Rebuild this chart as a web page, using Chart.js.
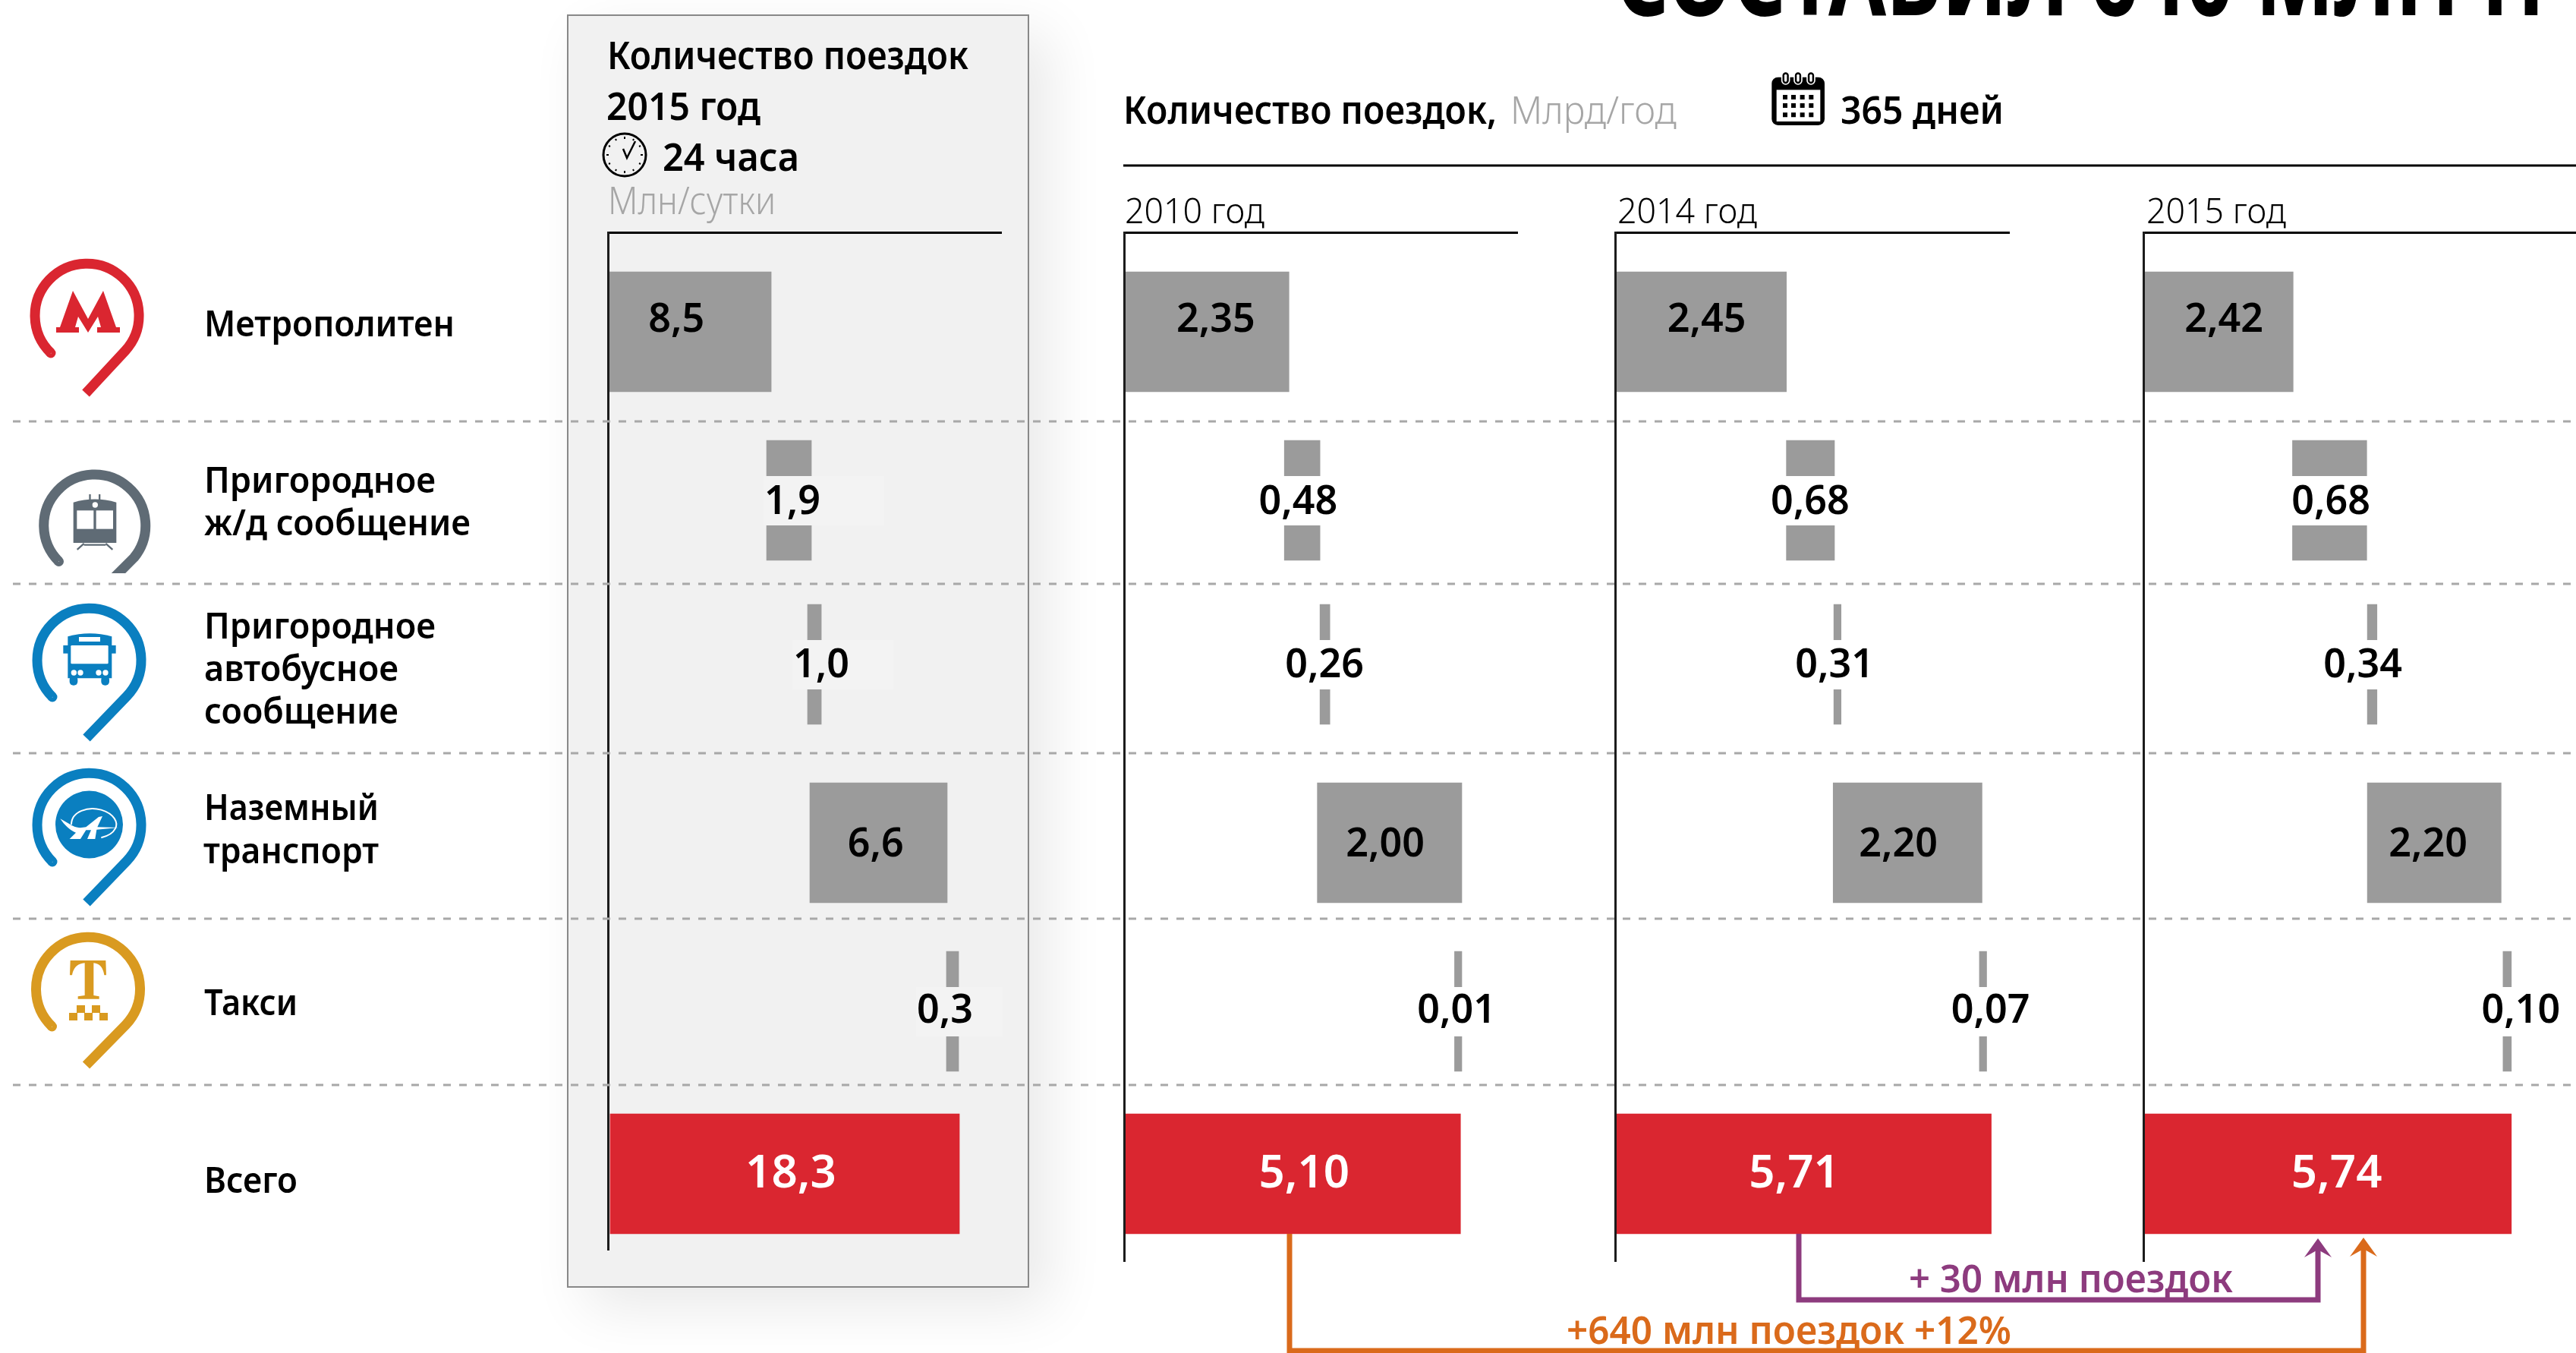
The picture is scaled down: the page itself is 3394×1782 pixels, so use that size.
<!DOCTYPE html>
<html lang="ru">
<head>
<meta charset="utf-8">
<title>Количество поездок</title>
<script src="https://cdn.jsdelivr.net/npm/chart.js@4"></script>
<style>
  html, body { margin: 0; background: #fff; }
  #page { position: relative; width: 3394px; height: 1782px; overflow: hidden; background: #fff; }
  #panel { position: absolute; left: 747px; top: 19px; width: 605px; height: 1673px; background: #f1f1f1; border: 2px solid #888; box-shadow: 26px 26px 70px rgba(0, 0, 0, .09); }
  canvas { position: absolute; }
  #overlay { position: absolute; left: 0; top: 0; }
  #overlay text { font-family: "Noto Sans", sans-serif; font-weight: 600; fill: #000; }
  #overlay text.light { font-weight: 300; }
  #overlay text.unit { font-weight: 300; fill: #a6a6a6; }
</style>
</head>
<body>
<div id="page">
  <div id="panel"></div>
  <canvas id="chartDay" width="590" height="1345" style="left:797px;top:302px"></canvas>
  <canvas id="chart2010" width="560" height="1360" style="left:1477px;top:302px"></canvas>
  <canvas id="chart2014" width="560" height="1360" style="left:2124px;top:302px"></canvas>
  <canvas id="chart2015" width="574" height="1360" style="left:2820px;top:302px"></canvas>

  <svg id="overlay" width="3394" height="1782" viewBox="0 0 3394 1782" xmlns="http://www.w3.org/2000/svg">
    <!-- разделители строк -->
    <g stroke="#a8a8a8" stroke-width="3" stroke-dasharray="10 11">
      <path d="M17 555H3394M17 769H3394M17 992H3394M17 1210H3394M17 1429H3394"/>
    </g>
    <path d="M1480 218H3394" stroke="#000" stroke-width="3"/>

    <!-- заголовок, срезан верхним краем -->
    <text x="2128" y="20" font-size="150" textLength="1225" lengthAdjust="spacingAndGlyphs" style="font-weight:700">СОСТАВИЛ 640 МЛН П</text>

    <!-- шапка -->
    <text x="800" y="91" font-size="50" textLength="476" lengthAdjust="spacingAndGlyphs">Количество поездок</text>
    <text x="799" y="158" font-size="50" textLength="203" lengthAdjust="spacingAndGlyphs">2015 год</text>
    <text x="873" y="225" font-size="50" textLength="180" lengthAdjust="spacingAndGlyphs">24 часа</text>
    <text x="801" y="282" font-size="50" textLength="221" lengthAdjust="spacingAndGlyphs" class="unit">Млн/сутки</text>
    <text x="1480" y="163" font-size="50" textLength="492" lengthAdjust="spacingAndGlyphs">Количество поездок,</text>
    <text x="1990" y="163" font-size="50" textLength="219" lengthAdjust="spacingAndGlyphs" class="unit">Млрд/год</text>
    <text x="2425" y="163" font-size="50" textLength="215" lengthAdjust="spacingAndGlyphs">365 дней</text>
    <text x="1482" y="294" font-size="46" textLength="184" lengthAdjust="spacingAndGlyphs" class="light">2010 год</text>
    <text x="2131" y="294" font-size="46" textLength="184" lengthAdjust="spacingAndGlyphs" class="light">2014 год</text>
    <text x="2828" y="294" font-size="46" textLength="184" lengthAdjust="spacingAndGlyphs" class="light">2015 год</text>

    <!-- подписи строк -->
    <text x="269" y="443" font-size="47" textLength="330" lengthAdjust="spacingAndGlyphs">Метрополитен</text>
    <text x="269" y="649" font-size="47" textLength="305" lengthAdjust="spacingAndGlyphs">Пригородное</text>
    <text x="269" y="705" font-size="47" textLength="351" lengthAdjust="spacingAndGlyphs">ж/д сообщение</text>
    <text x="269" y="841" font-size="47" textLength="305" lengthAdjust="spacingAndGlyphs">Пригородное</text>
    <text x="269" y="897" font-size="47" textLength="256" lengthAdjust="spacingAndGlyphs">автобусное</text>
    <text x="269" y="953" font-size="47" textLength="256" lengthAdjust="spacingAndGlyphs">сообщение</text>
    <text x="269" y="1080" font-size="47" textLength="230" lengthAdjust="spacingAndGlyphs">Наземный</text>
    <text x="268" y="1137" font-size="47" textLength="231" lengthAdjust="spacingAndGlyphs">транспорт</text>
    <text x="269" y="1337" font-size="47" textLength="123" lengthAdjust="spacingAndGlyphs">Такси</text>
    <text x="269" y="1571" font-size="47" textLength="123" lengthAdjust="spacingAndGlyphs">Всего</text>

    <!-- стрелки прироста -->
    <g fill="none" stroke-width="7">
      <path d="M1699 1625V1779H3114V1640" stroke="#da6a1b"/>
      <path d="M2370 1625V1712H3054V1640" stroke="#8d3b7e"/>
    </g>
    <path d="M3054 1631L3072 1656L3054 1646L3036 1656Z" fill="#8d3b7e"/>
    <path d="M3114 1630L3132 1655L3114 1645L3096 1655Z" fill="#da6a1b"/>
    <text x="2515" y="1702" font-size="50" textLength="427" lengthAdjust="spacingAndGlyphs" style="fill:#8d3b7e">+ 30 млн поездок</text>
    <text x="2064" y="1770" font-size="50" textLength="586" lengthAdjust="spacingAndGlyphs" style="fill:#da6a1b">+640 млн поездок +12%</text>

    <!-- часы -->
    <g fill="none" stroke="#000">
      <circle cx="823" cy="204" r="28" stroke-width="3"/>
      <path d="M821 196L826 208L837 186" stroke-width="2.5"/>
      <path d="M823 180v3M823 225v3M799 204h3M844 204h3M811 183l1 2M835 183l-1 2M811 225l1-2M835 225l-1-2M802 192l2 1M844 192l-2 1M802 216l2-1M844 216l-2-1" stroke-width="2"/>
    </g>

    <!-- календарь -->
    <g transform="translate(2320,85) scale(.3333)">
      <rect x="43" y="50" width="209" height="190" rx="25"/>
      <rect x="62" y="100" width="173" height="125" fill="#fff"/>
      <g stroke="#fff" stroke-width="5">
        <rect x="83" y="28" width="30" height="50" rx="15"/>
        <rect x="132" y="28" width="30" height="50" rx="15"/>
        <rect x="183" y="28" width="30" height="50" rx="15"/>
      </g>
      <g fill="#fff"><rect x="93" y="38" width="10" height="30" rx="5"/><rect x="142" y="38" width="10" height="30" rx="5"/><rect x="193" y="38" width="10" height="30" rx="5"/></g>
      <path d="M87 120h18v18h-18zM120 120h18v18h-18zM155 120h18v18h-18zM190 120h18v18h-18zM87 153h18v18h-18zM120 153h18v18h-18zM155 153h18v18h-18zM190 153h18v18h-18zM87 190h18v18h-18zM120 190h18v18h-18zM155 190h18v18h-18zM190 190h18v18h-18z"/>
    </g>

    <!-- метро -->
    <g transform="translate(115,415)" fill="none" stroke="#da2630" stroke-width="13">
      <path d="M-48 50A68.5 68.5 0 1 1 50 47L-2 103"/>
      <circle cx="-48" cy="50" r="3" stroke-width="7"/>
    </g>
    <path d="M74 438V431H79L96 383L116 420L136 383L153 431H158V438H128V431H133L129 417L116 438L103 417L99 431H104V438Z" fill="#da2630"/>

    <!-- поезд -->
    <clipPath id="railClip"><rect x="0" y="600" width="240" height="155"/></clipPath>
    <g clip-path="url(#railClip)">
      <g transform="translate(125.5,690.5)" fill="none" stroke="#5f6b75" stroke-width="13">
        <path d="M-48 49A67 67 0 1 1 51 44L-10 105"/>
        <circle cx="-48" cy="49" r="3" stroke-width="7"/>
      </g>
    </g>
    <g transform="translate(20,600) scale(.3333)" fill="#5f6b75">
      <path d="M230 185Q315 160 400 185V345H230Z"/>
      <rect x="292" y="153" width="7" height="28"/><rect x="330" y="153" width="7" height="28"/>
      <path d="M245 372L272 348M385 372L358 348M272 353H358" stroke="#5f6b75" stroke-width="7" fill="none"/>
      <g fill="#fff"><rect x="244" y="217" width="66" height="73"/><rect x="320" y="217" width="67" height="73"/><circle cx="316" cy="195" r="11"/></g>
    </g>

    <!-- автобус -->
    <g transform="translate(118,869)" fill="none" stroke="#0a7fc0" stroke-width="13">
      <path d="M-49 49A68.5 68.5 0 1 1 49 48L-4 103"/>
      <circle cx="-49" cy="49" r="3" stroke-width="7"/>
    </g>
    <g transform="translate(30,790) scale(.3333)" fill="#0a7fc0">
      <path d="M178 145Q265 120 352 145V310H178Z"/>
      <rect x="160" y="180" width="20" height="32"/><rect x="350" y="180" width="18" height="32"/>
      <rect x="185" y="300" width="32" height="38" rx="15"/><rect x="310" y="300" width="32" height="38" rx="15"/>
      <g fill="#fff">
        <rect x="222" y="147" width="84" height="18"/><rect x="190" y="180" width="148" height="73" rx="4"/>
        <circle cx="202" cy="288" r="11"/><circle cx="228" cy="288" r="11"/><circle cx="300" cy="288" r="11"/><circle cx="327" cy="288" r="11"/>
      </g>
    </g>

    <!-- наземный транспорт -->
    <g transform="translate(118,1086)" fill="none" stroke="#0a7fc0" stroke-width="13">
      <path d="M-49 49A68.5 68.5 0 1 1 49 48L-4 103"/>
      <circle cx="-49" cy="49" r="3" stroke-width="7"/>
    </g>
    <circle cx="117.5" cy="1086" r="44.5" fill="#0a7fc0"/>
    <g transform="translate(20,1000) scale(.3333)">
      <path d="M178 235L225 262C250 275 265 270 280 268L330 228L345 225L325 268L408 270L322 278L316 315H285L300 280H280L258 315H215L240 290C215 280 195 260 178 235Z" fill="#fff"/>
      <path d="M222 258C222 205 290 185 340 200C390 215 410 250 395 275C385 295 360 305 340 310" fill="none" stroke="#fff" stroke-width="6"/>
    </g>

    <!-- такси -->
    <g transform="translate(116.5,1303)" fill="none" stroke="#d99a20" stroke-width="13">
      <path d="M-48 49A68.5 68.5 0 1 1 49 47L-3 100"/>
      <circle cx="-48" cy="49" r="3" stroke-width="7"/>
    </g>
    <g transform="translate(30,1225) scale(.3333)" fill="#d99a20">
      <path d="M188 120H328L330 178H322C318 150 305 132 280 130V258L302 262V272H218V262L245 258V130C215 132 200 150 195 178H186Z"/>
      <path d="M213 297h33v30h-33zM273 297h33v30h-33zM183 327h33v30h-33zM243 327h33v30h-33zM303 327h33v30h-33z"/>
    </g>
  </svg>
</div>

<script>
'use strict';

const CATEGORIES = ['Метрополитен', 'Пригородное ж/д сообщение', 'Пригородное автобусное сообщение', 'Наземный транспорт', 'Такси', 'Всего'];

// подписанные значения
const VALUES_DAY = [8.5, 1.9, 1.0, 6.6, 0.3, 18.3];
const VALUES_2010 = [2.35, 0.48, 0.26, 2.00, 0.01, 5.10];
const VALUES_2014 = [2.45, 0.68, 0.31, 2.20, 0.07, 5.71];
const VALUES_2015 = [2.42, 0.68, 0.34, 2.20, 0.10, 5.74];

// начало и конец каждого плавающего столбца
const FROM_DAY = [0, 8.33, 10.48, 10.6, 17.77, 0.12];
const TO_DAY = [8.57, 10.68, 11.2, 17.81, 18.41, 18.45];
const FROM_2010 = [0, 2.43, 2.97, 2.93, 5.01, 0];
const TO_2010 = [2.5, 2.97, 3.12, 5.12, 5.12, 5.10];
const FROM_2014 = [0, 2.6, 3.32, 3.31, 5.53, 0];
const TO_2014 = [2.6, 3.33, 3.43, 5.57, 5.64, 5.71];
const FROM_2015 = [0, 2.33, 3.5, 3.5, 5.62, 0.01];
const TO_2015 = [2.34, 3.49, 3.65, 5.59, 5.75, 5.75];

// где стоит центр подписи, в единицах оси
const LABEL_AT_DAY = [3.6, 9.68, 11.2, 14.06, 17.69, 9.6];
const LABEL_AT_2010 = [1.39, 2.64, 3.04, 3.96, 5.04, 2.73];
const LABEL_AT_2014 = [1.39, 2.96, 3.33, 4.3, 5.7, 2.72];
const LABEL_AT_2015 = [1.26, 2.93, 3.43, 4.45, 5.9, 3.02];

// раскладка: строки в оригинале идут неровно
const ROW_CENTERS = [437, 659, 875, 1110, 1332, 1546];
const LABEL_SHIFT = [-15, 3, 2, 3, 0, 1];
const BAR_COLORS = ['#9b9b9b', '#9b9b9b', '#9b9b9b', '#9b9b9b', '#9b9b9b', '#da2630'];
const PATCH_RIGHT_DAY = [0, 121, 95, 0, 76, 0];
const PATCH_RIGHT_YEAR = [0, 60, 60, 0, 60, 0];

// категориальная шкала с неравным шагом строк
class RowScale extends Chart.CategoryScale {
  static id = 'rows';
  static defaults = {};
  getPixelForValue(value, index) {
    const i = index === undefined ? Math.round(value) : index;
    return ROW_CENTERS[i] - this.chart.canvas.offsetTop;
  }
}
Chart.register(RowScale);

// подпись поверх столбца; у узких столбцов подложка делает разрыв
const valueLabels = {
  id: 'valueLabels',
  afterDatasetsDraw(chart, args, opts) {
    const { ctx, scales: { x, y } } = chart;
    ctx.save();
    opts.values.forEach((value, i) => {
      const cx = x.getPixelForValue(opts.labelAt[i]);
      const cy = y.getPixelForValue(i, i);
      if (opts.patchRight[i]) {
        ctx.fillStyle = opts.patchColor;
        ctx.fillRect(cx - opts.patchLeft, cy - 32, opts.patchLeft + opts.patchRight[i], 65);
      }
      const total = i === CATEGORIES.length - 1;
      ctx.font = `600 ${total ? 60 : 52}px "Noto Sans", sans-serif`;
      ctx.fillStyle = total ? '#fff' : '#000';
      ctx.textAlign = 'center';
      ctx.textBaseline = 'middle';
      ctx.fillText(value.toFixed(opts.decimals).replace('.', ','), cx, cy + LABEL_SHIFT[i]);
    });
    ctx.restore();
  }
};

function drawColumn(id, xMax, paddingRight, values, from, to, labelAt, decimals, patch) {
  new Chart(document.getElementById(id), {
    type: 'bar',
    plugins: [valueLabels],
    data: {
      labels: CATEGORIES,
      datasets: [{
        data: from.map((start, i) => [start, to[i]]),
        backgroundColor: BAR_COLORS,
        barThickness: 158,
        borderWidth: 0
      }]
    },
    options: {
      indexAxis: 'y',
      responsive: false,
      animation: false,
      events: [],
      layout: { padding: { left: 4, top: 4, right: paddingRight, bottom: 0 } },
      plugins: {
        legend: { display: false },
        tooltip: { enabled: false },
        valueLabels: { values, labelAt, decimals, ...patch }
      },
      scales: {
        x: {
          position: 'top',
          min: 0,
          max: xMax,
          ticks: { display: false },
          grid: { display: false, drawTicks: false },
          border: { color: '#000', width: 3 }
        },
        y: {
          type: 'rows',
          ticks: { display: false },
          grid: { display: false, drawTicks: false },
          border: { color: '#1c1c1c', width: 3, z: 1 }
        }
      }
    }
  });
}

const PANEL_PATCH = { patchColor: '#f3f3f3', patchLeft: 38, patchRight: PATCH_RIGHT_DAY };
const YEAR_PATCH = { patchColor: '#fff', patchLeft: 60, patchRight: PATCH_RIGHT_YEAR };

drawColumn('chartDay', 20.64, 68, VALUES_DAY, FROM_DAY, TO_DAY, LABEL_AT_DAY, 1, PANEL_PATCH);
drawColumn('chart2010', 5.96, 38, VALUES_2010, FROM_2010, TO_2010, LABEL_AT_2010, 2, YEAR_PATCH);
drawColumn('chart2014', 5.98, 37, VALUES_2014, FROM_2014, TO_2014, LABEL_AT_2014, 2, YEAR_PATCH);
drawColumn('chart2015', 6.76, 0, VALUES_2015, FROM_2015, TO_2015, LABEL_AT_2015, 2, YEAR_PATCH);
</script>
</body>
</html>
